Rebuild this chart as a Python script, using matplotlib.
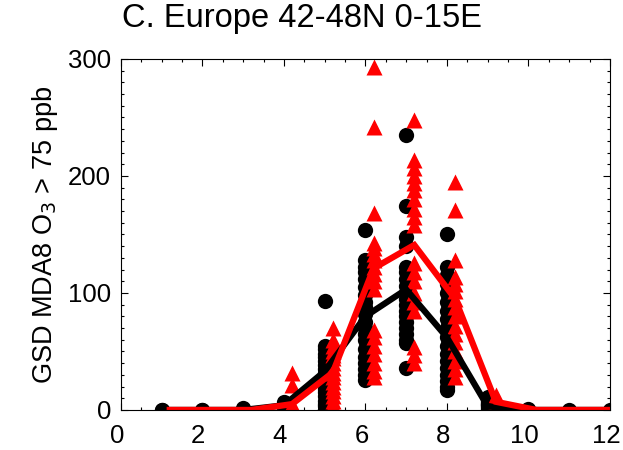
import numpy as np
import matplotlib
matplotlib.use("Agg")
import matplotlib.pyplot as plt
import matplotlib.transforms as mtransforms
from matplotlib.ticker import MultipleLocator

plt.rcParams['font.family'] = ['Liberation Sans', 'DejaVu Sans']

# Data (days per month, one point per year)
months = np.arange(1, 13)

model_pts = {          # black circles
    1: [0, 0], 2: [0, 0], 3: [2, 0], 4: [7, 3, 0],
    5: [93, 55, 52, 48, 45, 42, 38, 35, 32, 28, 25, 22, 18, 15, 12, 8, 5, 3, 0, 0],
    6: [154, 128, 122, 118, 112, 105, 98, 92, 88, 82, 75, 70, 65, 60, 52, 45, 40, 35, 30, 26],
    7: [235, 174, 148, 140, 122, 118, 112, 106, 100, 95, 90, 85, 80, 75, 70, 65, 60, 57, 36],
    8: [150, 122, 115, 108, 100, 92, 85, 78, 70, 62, 55, 48, 42, 36, 30, 25, 20, 17],
    9: [11, 8, 6, 5, 4, 3, 2, 0], 10: [1, 0], 11: [0], 12: [0],
}
obs_pts = {            # red triangles
    4: [32, 21, 5],
    5: [70, 60, 55, 50, 47, 44, 40, 36, 32, 28, 24, 20, 16, 12, 8, 4, 0],
    6: [293, 242, 168, 143, 138, 133, 128, 122, 116, 110, 103, 68, 62, 55, 48, 40, 33, 28],
    7: [248, 214, 207, 200, 194, 188, 180, 172, 165, 158, 126, 118, 110, 100, 92, 85, 54, 47, 40],
    8: [195, 171, 128, 114, 108, 102, 95, 88, 80, 72, 65, 58, 50, 42, 35, 28],
    9: [13, 8, 5, 2],
}

# monthly means (lines)
model_mean = [0, 0, 0, 4, 33, 80, 103, 62, 3, 0, 0, 0]
obs_mean = [0, 0, 0, 5, 32, 121, 141, 95, 7, 0, 0, 0]

fig = plt.figure(figsize=(6.23, 4.5), dpi=100)
ax = fig.add_axes([0.194, 0.089, 0.785, 0.780])

for m, vals in model_pts.items():
    ax.plot([m] * len(vals), vals, 'o', color='black', ms=11, mec='none')
for m, vals in obs_pts.items():
    ax.plot([m + 0.2] * len(vals), vals, '^', color='red', ms=11.5, mec='none')

ax.plot(months, model_mean, color='black', lw=4.5, solid_joinstyle='miter')
ax.plot(months + 0.2, obs_mean, color='red', lw=4.5, solid_joinstyle='miter')

ax.set_xlim(0, 12)
ax.set_ylim(0, 300)
ax.xaxis.set_major_locator(MultipleLocator(2))
ax.xaxis.set_minor_locator(MultipleLocator(0.5))
ax.yaxis.set_major_locator(MultipleLocator(100))
ax.yaxis.set_minor_locator(MultipleLocator(10))
ax.tick_params(which='both', direction='in', top=True, right=True, labelsize=18.5, width=0.8)
ax.tick_params(which='major', length=5)
ax.tick_params(which='minor', length=2.5)
ax.tick_params(axis='x', pad=10)
ax.tick_params(axis='y', pad=7)
for s in ax.spines.values():
    s.set_linewidth(0.8)

# IDL-style labels sit a little left of their ticks
shift = mtransforms.ScaledTranslation(-4 / 100, 0, fig.dpi_scale_trans)
for lbl in ax.get_xticklabels():
    lbl.set_transform(lbl.get_transform() + shift)

ax.set_ylabel('GSD MDA8 O$_3$ > 75 ppb', fontsize=19.5, labelpad=6)
fig.text(0.484, 0.958, 'C. Europe 42-48N 0-15E', fontsize=23.5, ha='center', va='center')

fig.savefig('out.png', dpi=100)
